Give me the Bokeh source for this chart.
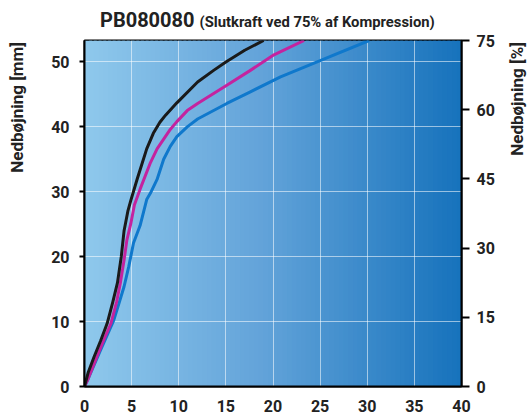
import numpy as np
from bokeh.plotting import figure
from bokeh.models import Range1d, LinearAxis, FixedTicker, ColumnDataSource, Div
from bokeh.layouts import row, column
from bokeh.embed import file_html
from bokeh.resources import INLINE

# ---- data (force on x, deflection in mm on y) ----
black_x = [0, 0.4, 1.0, 1.7, 2.4, 3.0, 3.5, 3.9, 4.2, 4.6, 4.9, 5.6, 6.6, 7.3, 8.0, 8.6, 9.8, 12.0, 13.7, 15.0, 17.0, 19.0]
black_y = [0, 2.2, 4.5, 7.0, 9.7, 13.0, 16.0, 20.0, 24.0, 27.0, 28.6, 32.0, 36.6, 39.0, 40.7, 41.8, 43.7, 46.9, 48.7, 50.0, 51.8, 53.3]

mag_x = [0, 0.3, 1.3, 2.0, 2.8, 3.4, 3.8, 4.2, 4.5, 4.9, 5.3, 5.9, 7.0, 7.7, 8.4, 9.1, 9.8, 10.9, 12.0, 15.1, 17.6, 20.1, 23.3]
mag_y = [0, 0.9, 4.5, 7.0, 9.7, 13.0, 15.9, 19.5, 22.6, 25.0, 28.0, 30.4, 34.5, 36.6, 38.1, 39.6, 40.8, 42.5, 43.6, 46.4, 48.7, 51.1, 53.3]

blue_x = [0, 0.3, 1.7, 3.1, 3.7, 4.2, 4.7, 5.2, 5.9, 6.6, 7.0, 7.7, 8.4, 9.1, 9.8, 10.9, 12.0, 15.1, 17.6, 20.8, 25.2, 30.2]
blue_y = [0, 0.9, 5.6, 10.2, 13.0, 15.4, 18.5, 22.1, 24.8, 28.8, 29.8, 31.9, 35.0, 37.0, 38.5, 40.0, 41.2, 43.6, 45.4, 47.7, 50.3, 53.3]

x_ticks = [0, 5, 10, 15, 20, 25, 30, 35, 40]
y_ticks = [0, 10, 20, 30, 40, 50]
pct_ticks = [0, 15, 30, 45, 60, 75]
Y_MAX = 53.3
PCT_MAX = 75

title_main = "PB080080"
title_sub = "(Slutkraft ved 75% af Kompression)"
left_label = "Nedbøjning [mm]"
right_label = "Nedbøjning [%]"

FONT = "Roboto"

p = figure(width=469, height=384, x_range=Range1d(0, 40), y_range=Range1d(0, Y_MAX),
           output_backend="svg", toolbar_location=None, margin=0,
           min_border_left=56, min_border_right=36, min_border_top=10, min_border_bottom=27)
p.extra_y_ranges = {"pct": Range1d(0, PCT_MAX)}

# ---- gradient background ----
n = 80
edges = np.linspace(0, 40, n + 1)
stops_x = [0, 19, 40]
stops_c = np.array([[143, 200, 236], [98, 163, 217], [22, 114, 188]], dtype=float)
cols = []
for i in range(n):
    xm = (edges[i] + edges[i + 1]) / 2
    c = [np.interp(xm, stops_x, stops_c[:, k]) for k in range(3)]
    cols.append("#%02x%02x%02x" % tuple(int(round(v)) for v in c))
bg = ColumnDataSource(dict(left=edges[:-1], right=edges[1:] + 0.3, color=cols))
qr = p.quad(left="left", right="right", bottom=0, top=Y_MAX, fill_color="color",
            line_color=None, source=bg)
qr.level = "underlay"

# ---- curves ----
p.line(blue_x, blue_y, line_color="#0f78cc", line_width=3, line_join="round")
p.line(mag_x, mag_y, line_color="#c4239f", line_width=3, line_join="round")
p.line(black_x, black_y, line_color="#1a1a1a", line_width=3, line_join="round")

# ---- grid ----
for g in (p.xgrid, p.ygrid):
    g.grid_line_color = "white"
    g.grid_line_alpha = 0.55
    g.grid_line_width = 1
p.xgrid.ticker = FixedTicker(ticks=x_ticks)
p.ygrid.ticker = FixedTicker(ticks=y_ticks)

p.outline_line_color = "black"
p.outline_line_width = 2
p.background_fill_color = None
p.border_fill_color = "white"

# ---- axes ----
def style(ax, tick_out, standoff):
    ax.axis_line_color = "black"
    ax.axis_line_width = 2
    ax.major_tick_line_color = "black"
    ax.major_tick_line_width = 2
    ax.major_tick_in = 0
    ax.major_tick_out = tick_out
    ax.minor_tick_line_color = None
    ax.major_label_text_font = FONT
    ax.major_label_text_font_style = "bold"
    ax.major_label_text_font_size = "16px"
    ax.major_label_text_color = "#222222"
    ax.major_label_standoff = standoff

xa = p.xaxis[0]
xa.ticker = FixedTicker(ticks=x_ticks)
style(xa, 0, 13)
xa.major_tick_line_color = None

ya = p.yaxis[0]
ya.ticker = FixedTicker(ticks=y_ticks)
style(ya, 5, 10)

ra = LinearAxis(y_range_name="pct", ticker=FixedTicker(ticks=pct_ticks))
style(ra, 8, 7)
p.add_layout(ra, "right")

# ---- texts outside the plot ----
title_div = Div(width=469, height=30, margin=0, text=(
    '<div style="font-family:Roboto;font-weight:bold;color:#222;white-space:nowrap;'
    'padding-left:72px;padding-top:10px;font-size:20px;line-height:20px;margin:0">'
    '<span style="font-size:20px">%s</span>'
    '<span style="font-size:14.8px;margin-left:5px">%s</span></div>' % (title_main, title_sub)))

def vdiv(txt, width, pad_left):
    return Div(width=width, height=414, margin=0, text=(
        '<div style="padding-top:42px;padding-left:%dpx;margin:0">'
        '<div style="display:inline-block;writing-mode:vertical-rl;transform:rotate(180deg);'
        'font-family:Roboto;font-weight:bold;font-size:17px;line-height:18px;color:#222;'
        'white-space:nowrap">%s</div></div>' % (pad_left, txt)))

left_div = vdiv(left_label, 28, 8)
right_div = vdiv(right_label, 32, 11)

layout = row(left_div, column(title_div, p, spacing=0), right_div, spacing=0)

open("out.html", "w").write(file_html(layout, INLINE))
